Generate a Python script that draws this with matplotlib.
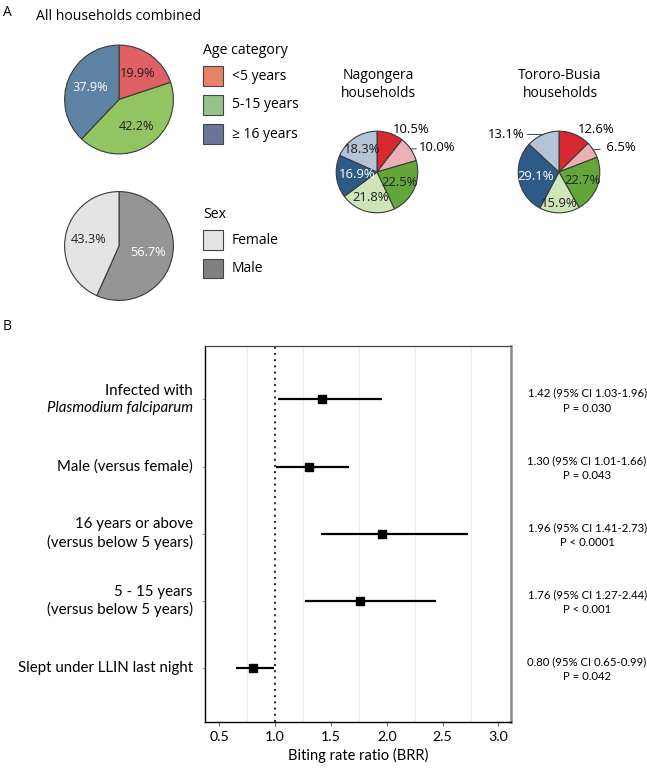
import matplotlib
matplotlib.use('Agg')
import matplotlib.pyplot as plt
from matplotlib.patches import Rectangle
import numpy as np

# ---------------- data ----------------
age_labels = ['<5 years', '5-15 years', '\u2265 16 years']
age_all = [19.9, 42.2, 37.9]
sex_labels = ['Female', 'Male']
sex_all = [56.7, 43.3]          # drawn clockwise from top: Male, Female

nag_values = [10.5, 10.0, 22.5, 21.8, 16.9, 18.3]
tor_values = [12.6, 6.5, 22.7, 15.9, 29.1, 13.1]

rows = ['Infected with', 'Male (versus female)', '16 years or above\n(versus below 5 years)',
        '5 - 15 years\n(versus below 5 years)', 'Slept under LLIN last night']
brr = [1.42, 1.30, 1.96, 1.76, 0.80]
ci_lo = [1.03, 1.01, 1.41, 1.27, 0.65]
ci_hi = [1.96, 1.66, 2.73, 2.44, 0.99]
pvals = ['P = 0.030', 'P = 0.043', 'P < 0.0001', 'P < 0.001', 'P = 0.042']
xticks = [0.5, 1.0, 1.5, 2.0, 2.5, 3.0]
xminor = [0.75, 1.25, 1.75, 2.25, 2.75]

# ---------------- style ----------------
PF = ['Open Sans', 'DejaVu Sans']
NF = ['Lato', 'DejaVu Sans']
plt.rcParams['font.family'] = PF

W, H = 647, 768
fig = plt.figure(figsize=(W / 100, H / 100), dpi=100)


def ax_px(x0, y0, w, h):
    return fig.add_axes([x0 / W, 1 - (y0 + h) / H, w / W, h / H])


def fx(x):
    return x / W


def fy(y):
    return 1 - y / H


EDGE = '#3a3a3a'


def pie_axes(cx, cy, r):
    ax = ax_px(cx - r, cy - r, 2 * r, 2 * r)
    ax.set_xlim(-1, 1)
    ax.set_ylim(-1, 1)
    ax.set_aspect('equal')
    ax.axis('off')
    return ax


def draw_pie(ax, vals, colors):
    wedges, _ = ax.pie(vals, colors=colors, startangle=90, counterclock=False, radius=1,
                       wedgeprops=dict(edgecolor=EDGE, linewidth=0.8))
    return wedges


def mid(w):
    return np.deg2rad((w.theta1 + w.theta2) / 2)


def inner_label(ax, w, val, dist, color, size):
    a = mid(w)
    ax.text(dist * np.cos(a), dist * np.sin(a), f'{val:.1f}%', ha='center', va='center',
            color=color, fontsize=size, family=PF)


def outer_label(ax, w, val, tx, ty, ha, size, prefix=''):
    a = mid(w)
    ax.annotate(prefix + f'{val:.1f}%', xy=(np.cos(a), np.sin(a)), xytext=(tx, ty),
                ha=ha, va='center', fontsize=size, family=PF, annotation_clip=False,
                arrowprops=dict(arrowstyle='-', color=EDGE, lw=0.7, shrinkA=0, shrinkB=0))


# panel letters and title
fig.text(fx(3), fy(12), 'A', fontsize=10, ha='left', va='center', family=PF)
fig.text(fx(3), fy(327), 'B', fontsize=10, ha='left', va='center', family=PF)
fig.text(fx(119), fy(16), 'All households combined', fontsize=10.1, ha='center', va='center', family=PF)

# all households - age
ax1 = pie_axes(119, 99.5, 68)
w1 = draw_pie(ax1, age_all, ['#E06163', '#92C462', '#5E82A3'])
for w, v, c, d in zip(w1, age_all, ['#222222', '#222222', 'white'], [0.6, 0.59, 0.58]):
    inner_label(ax1, w, v, d, c, 9.2)

# all households - sex
ax2 = pie_axes(119, 246, 68)
w2 = draw_pie(ax2, sex_all, ['#959595', '#E4E4E4'])
for w, v, c, d in zip(w2, sex_all, ['white', '#222222'], [0.54, 0.58]):
    inner_label(ax2, w, v, d, c, 9.2)

# legends
leg_age_col = ['#E8836B', '#93C28A', '#6B7499']
fig.text(fx(203), fy(51), 'Age category', fontsize=10.2, ha='left', va='center', family=PF)
for i, (lab, c) in enumerate(zip(age_labels, leg_age_col)):
    yc = 76 + i * 29
    fig.patches.append(Rectangle((fx(203), fy(yc + 10)), 20 / W, 20 / H, transform=fig.transFigure,
                                 facecolor=c, edgecolor='#444444', linewidth=0.8))
    fig.text(fx(232), fy(yc), lab, fontsize=10, ha='left', va='center', family=PF)

leg_sex_col = ['#E4E4E4', '#808080']
fig.text(fx(203), fy(215), 'Sex', fontsize=10.2, ha='left', va='center', family=PF)
for i, (lab, c) in enumerate(zip(sex_labels, leg_sex_col)):
    yc = 240 + i * 28.5
    fig.patches.append(Rectangle((fx(203), fy(yc + 10)), 20 / W, 20 / H, transform=fig.transFigure,
                                 facecolor=c, edgecolor='#444444', linewidth=0.8))
    fig.text(fx(232), fy(yc), lab, fontsize=10, ha='left', va='center', family=PF)

# site pies
site_cols = ['#D7282F', '#EBB0B3', '#63A73B', '#CFE5B8', '#2E5A87', '#B3C4D6']
txt_cols = [None, None, '#222222', '#222222', 'white', '#222222']

fig.text(fx(378), fy(84.5), 'Nagongera\nhouseholds', fontsize=10, ha='center', va='center',
         family=PF, linespacing=1.2)
ax3 = pie_axes(377, 172, 51)
w3 = draw_pie(ax3, nag_values, site_cols)
for k, d in zip([2, 3, 4, 5], [0.6, 0.64, 0.49, 0.67]):
    inner_label(ax3, w3[k], nag_values[k], d, txt_cols[k], 9.4)
outer_label(ax3, w3[0], nag_values[0], 0.40, 1.03, 'left', 9.4)
outer_label(ax3, w3[1], nag_values[1], 1.03, 0.60, 'left', 9.4)

fig.text(fx(560), fy(84.5), 'Tororo-Busia\nhouseholds', fontsize=10, ha='center', va='center',
         family=PF, linespacing=1.2)
ax4 = pie_axes(559, 172, 51)
w4 = draw_pie(ax4, tor_values, site_cols)
for k, d in zip([2, 3, 4], [0.62, 0.76, 0.59]):
    inner_label(ax4, w4[k], tor_values[k], d, txt_cols[k], 9.4)
outer_label(ax4, w4[0], tor_values[0], 0.46, 1.03, 'left', 9.4)
outer_label(ax4, w4[1], tor_values[1], 1.08, 0.60, 'left', 9.4, prefix=' ')
outer_label(ax4, w4[5], tor_values[5], -0.84, 0.93, 'right', 9.4)

# ---------------- forest plot ----------------
axf = ax_px(205, 345.7, 305.7, 376)
n = len(rows)
ypos = np.arange(n, 0, -1)
axf.set_xlim(0.372, 3.11)
axf.set_ylim(0.2, 5.8)
axf.set_xticks(xticks)
axf.set_xticklabels([f'{t:.1f}' for t in xticks], fontsize=10.2, family=NF)
axf.set_xticks(xminor, minor=True)
axf.grid(which='minor', axis='x', color='#ececec', linewidth=0.8)
axf.tick_params(axis='x', which='minor', length=0)
axf.tick_params(axis='x', which='major', length=3, color='#777777', pad=4)
axf.set_yticks(ypos)
axf.set_yticklabels([])
axf.tick_params(axis='y', length=2.5, color='#999999')
axf.axvline(1.0, color='#222222', linestyle=(0, (1, 2.2)), linewidth=1.4, zorder=2)
axf.hlines(ypos, ci_lo, ci_hi, color='black', linewidth=1.6, zorder=3)
axf.plot(brr, ypos, 's', color='black', markersize=6, zorder=4)
for s in ['left', 'bottom']:
    axf.spines[s].set_color('black')
    axf.spines[s].set_linewidth(1.0)
axf.spines['top'].set_color('#444444')
axf.spines['top'].set_linewidth(0.9)
axf.spines['right'].set_color('#8a8a8a')
axf.spines['right'].set_linewidth(1.8)
axf.set_xlabel('Biting rate ratio (BRR)', fontsize=10.5, family=NF, labelpad=3)

lab_tr = axf.get_yaxis_transform()
for i, (lab, y) in enumerate(zip(rows, ypos)):
    if i == 0:
        axf.text(-0.04, y + 0.02, lab, transform=lab_tr, ha='right', va='bottom', fontsize=10.8,
                 family=NF)
        axf.text(-0.04, y - 0.02, 'Plasmodium falciparum', transform=lab_tr, ha='right', va='top',
                 fontsize=10.8, family=NF, style='italic')
    else:
        axf.text(-0.04, y, lab, transform=lab_tr, ha='right', va='center', fontsize=10.8,
                 family=NF, linespacing=1.3)
    axf.text(1.25, y - 0.02, f'{brr[i]:.2f} (95% CI {ci_lo[i]:.2f}-{ci_hi[i]:.2f})\n{pvals[i]}',
             transform=lab_tr, ha='center', va='center', fontsize=8.2, family=NF, linespacing=1.45)

fig.savefig('out.png', dpi=100)
